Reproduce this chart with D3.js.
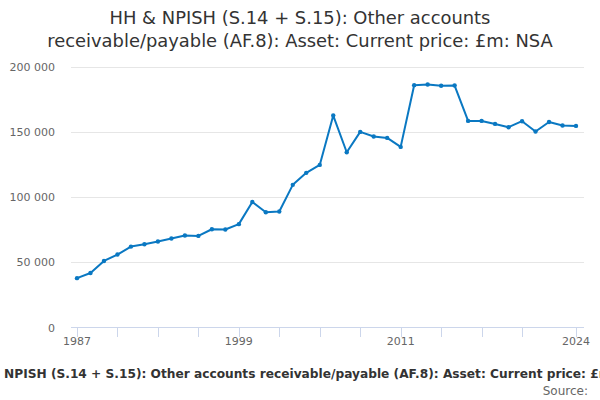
<!DOCTYPE html>
<html><head><meta charset="utf-8">
<script src="https://cdn.jsdelivr.net/npm/d3@7"></script>
<style>body{margin:0;background:#fff;}svg{display:block;font-family:"DejaVu Sans",sans-serif;}</style>
</head><body>
<svg id="c" width="600" height="400"></svg>
<script>
const years = d3.range(1987, 2025);
const values = [37800, 41800, 51000, 55900, 62000, 63800, 65900, 68200, 70500, 70200,
  75300, 75100, 79200, 96200, 88300, 88900, 109300, 118500, 124600, 162400,
  134300, 149900, 146400, 145300, 138400, 185700, 186200, 185200, 185400, 158300,
  158300, 156000, 153500, 158100, 150200, 157500, 154800, 154500];
const yTicks = [0, 50000, 100000, 150000, 200000];
const xTickYears = [1987, 1990, 1993, 1996, 1999, 2002, 2005, 2008, 2011, 2014, 2017, 2020, 2024];
const xLabelYears = [1987, 1999, 2011, 2024];
const titleLines = ["HH & NPISH (S.14 + S.15): Other accounts", "receivable/payable (AF.8): Asset: Current price: £m: NSA"];
const captionPrefix = "HH & ";
const captionRest = "NPISH (S.14 + S.15): Other accounts receivable/payable (AF.8): Asset: Current price: £m: NSA";

const svg = d3.select("#c");
const x = d3.scaleLinear().domain([1987, 2024]).range([77, 576]);
const y = d3.scaleLinear().domain([0, 200000]).range([327.5, 66.5]);

// title
svg.append("text").attr("text-anchor", "middle").attr("fill", "#333")
  .style("font-size", "17.9px")
  .selectAll("tspan").data(titleLines).join("tspan")
  .attr("x", 300).attr("y", (d, i) => 24 + i * 23).text(d => d);

// grid
svg.append("g").selectAll("line").data(yTicks.filter(d => d > 0)).join("line")
  .attr("x1", 71).attr("x2", 584).attr("y1", d => Math.round(y(d)) + 0.5).attr("y2", d => Math.round(y(d)) + 0.5)
  .attr("stroke", "#e6e6e6").attr("stroke-width", 1);

// y labels
const fmt = v => d3.format(",")(v).replace(/,/g, " ");
svg.append("g").selectAll("text").data(yTicks).join("text")
  .attr("x", 55).attr("y", d => y(d) + 4).attr("text-anchor", "end")
  .attr("fill", "#666").style("font-size", "11px").text(fmt);

// x axis
svg.append("line").attr("x1", 71).attr("x2", 584).attr("y1", 327.5).attr("y2", 327.5)
  .attr("stroke", "#ccd6eb").attr("stroke-width", 1);
svg.append("g").selectAll("line").data(xTickYears).join("line")
  .attr("x1", d => Math.round(x(d)) + 0.5).attr("x2", d => Math.round(x(d)) + 0.5)
  .attr("y1", 328).attr("y2", 337).attr("stroke", "#ccd6eb").attr("stroke-width", 1);
svg.append("g").selectAll("text").data(xLabelYears).join("text")
  .attr("x", d => x(d)).attr("y", 345).attr("text-anchor", "middle")
  .attr("fill", "#666").style("font-size", "11px").text(d => d);

// line
const line = d3.line().x((d, i) => x(years[i])).y(d => y(d));
svg.append("path").datum(values).attr("d", line).attr("fill", "none")
  .attr("stroke", "#0a78c2").attr("stroke-width", 2).attr("stroke-linejoin", "round");
svg.append("g").selectAll("circle").data(values).join("circle")
  .attr("cx", (d, i) => x(years[i])).attr("cy", d => y(d)).attr("r", 2.2).attr("fill", "#0a78c2");

// bottom caption (overflows the frame like the reference)
const cap = svg.append("text").attr("y", 378).attr("fill", "#333").attr("x", 0)
  .style("font-size", "12.2px").style("font-weight", "bold").attr("xml:space", "preserve")
  .text(captionPrefix + captionRest);
const off = cap.node().getStartPositionOfChar(captionPrefix.length).x;
cap.attr("x", 4 - off);

svg.append("text").attr("x", 588).attr("y", 395).attr("text-anchor", "end")
  .attr("fill", "#666").style("font-size", "12px").text("Source:");
</script>
</body></html>
